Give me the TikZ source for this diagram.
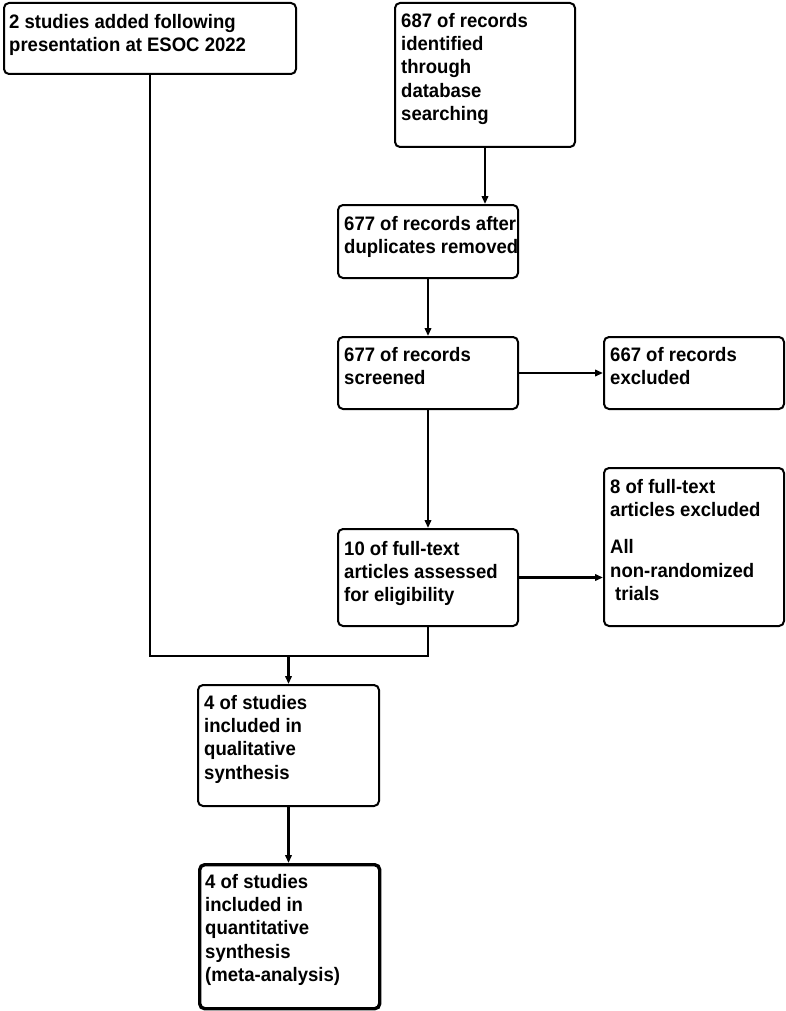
\documentclass[tikz,border=0pt]{standalone}
\usepackage{fontspec}
\setmainfont{Liberation Sans}[FakeStretch=0.95]
\usetikzlibrary{arrows.meta}
\begin{document}
\begin{tikzpicture}[x=1pt,y=-1pt,
  box/.style={draw, line width=2pt, rounded corners=5pt, inner sep=0pt, anchor=north west},
  thickbox/.style={box, line width=3.4pt},
  txt/.style={anchor=north west, inner sep=0pt, align=left, font=\fontsize{19.5}{23.3}\selectfont\bfseries},
  conn/.style={line width=2.2pt},
  arr/.style={conn, -{Triangle[length=8pt,width=6.5pt]}}]
\useasboundingbox (0,0) rectangle (786,1011);
% boxes
\node[box, minimum width=292pt, minimum height=71pt] (b1) at (3,2) {};
\node[box, minimum width=180pt, minimum height=144pt] (b2) at (394,2) {};
\node[box, minimum width=180pt, minimum height=73pt] (b3) at (337,204) {};
\node[box, minimum width=180pt, minimum height=72pt] (b4) at (337,336) {};
\node[box, minimum width=180pt, minimum height=72pt] (b5) at (603,336) {};
\node[box, minimum width=180pt, minimum height=158pt] (b6) at (603,467) {};
\node[box, minimum width=180pt, minimum height=97pt] (b7) at (337,528) {};
\node[box, minimum width=181pt, minimum height=121pt] (b8) at (197,684) {};
\node[thickbox, minimum width=180pt, minimum height=144pt] (b9) at (198,863) {};
% texts
\node[txt] (t1) at (9,13) {\rule{0pt}{15pt}2 studies added following\\presentation at ESOC 2022};
\node[txt] (t2) at (401,12) {\rule{0pt}{15pt}687 of records\\identified\\through\\database\\searching};
\node[txt] (t3) at (344,215) {\rule{0pt}{15pt}677 of records after\\duplicates removed};
\node[txt] (t4) at (344,346) {\rule{0pt}{15pt}677 of records\\screened};
\node[txt] (t5) at (610,346) {\rule{0pt}{15pt}667 of records\\excluded};
\node[txt] (t6) at (610,478) {\rule{0pt}{15pt}8 of full-text\\articles excluded\\[14pt]All\\non-randomized\\\hspace{5pt}trials};
\node[txt] (t7) at (344,540) {\rule{0pt}{15pt}10 of full-text\\articles assessed\\for eligibility};
\node[txt] (t8) at (204,694) {\rule{0pt}{15pt}4 of studies\\included in\\qualitative\\synthesis};
\node[txt] (t9) at (205,873) {\rule{0pt}{15pt}4 of studies\\included in\\quantitative\\synthesis\\(meta-analysis)};
% connectors
\draw[arr] (b2.south) -- (b2.south |- b3.north);
\draw[arr] (b4.north |- b3.south) -- (b4.north);
\draw[arr] (b4.east) -- (b5.west);
\draw[arr] (b4.south) -- (b7.north);
\draw[arr] (b7.east) -- (b7.east -| b6.west);
\path (b8.north) ++(0,-28) coordinate (mj);
\draw[conn] (b1.south) |- (mj);
\draw[conn] (b7.south) |- (mj);
\draw[arr] (mj) -- (b8.north);
\draw[arr] (b8.south) -- (b8.south |- b9.north);
\end{tikzpicture}
\end{document}
